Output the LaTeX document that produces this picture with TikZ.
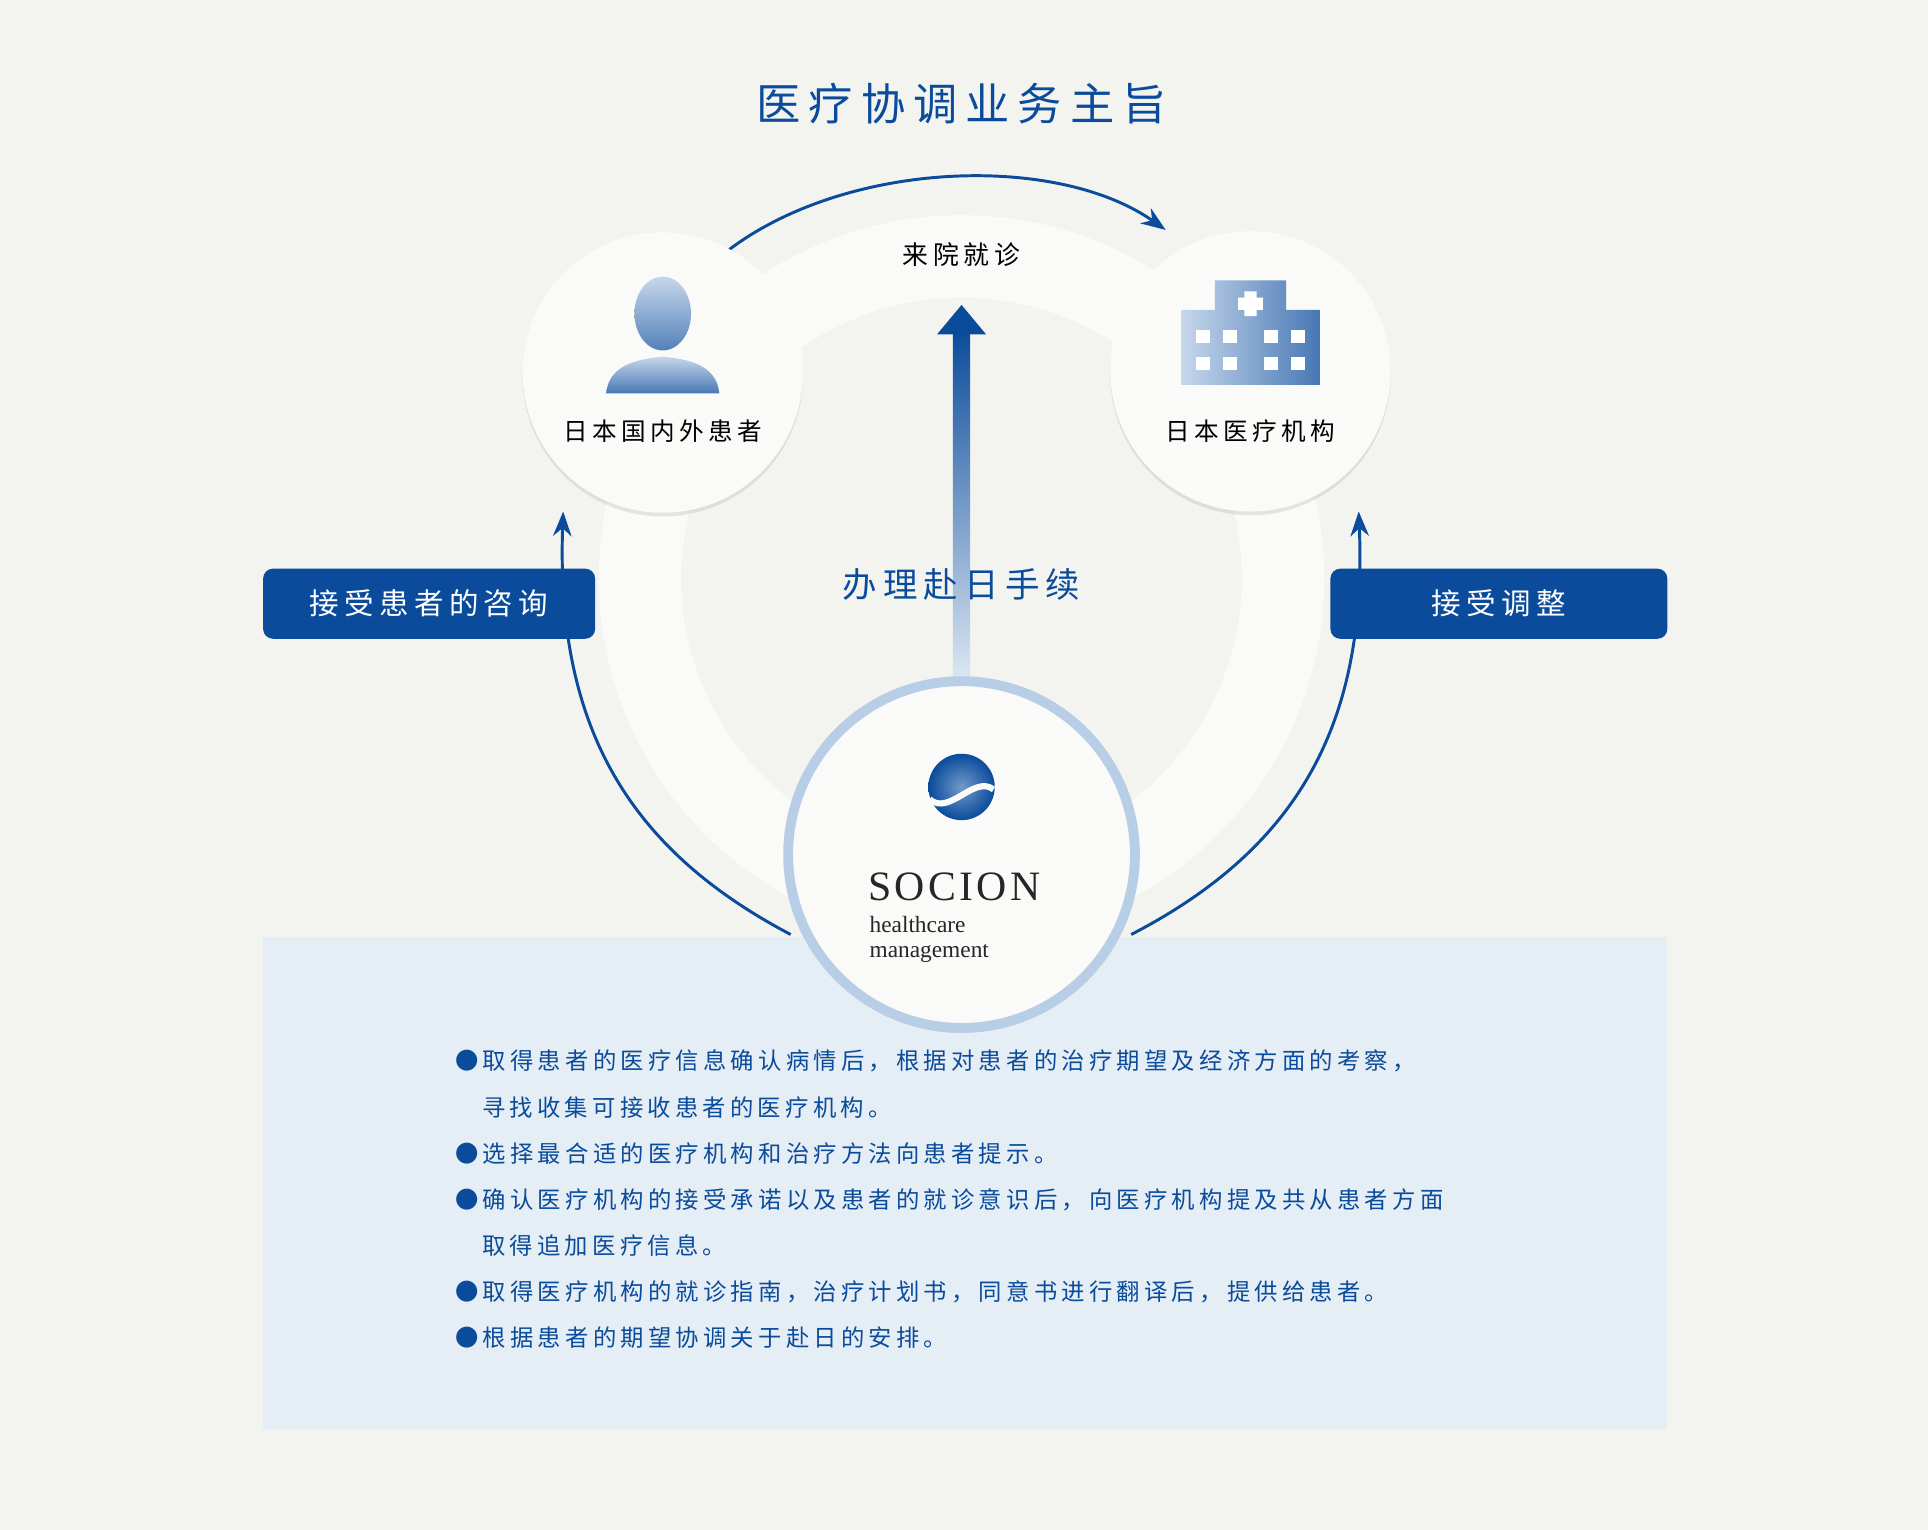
\documentclass[tikz,border=0pt]{standalone}
\usepackage{fontspec}
\newfontfamily\cjk[LetterSpace=18]{Noto Sans CJK SC}
\setmainfont{Liberation Serif}
\usetikzlibrary{shadows,arrows.meta}
\definecolor{bgcol}{HTML}{F3F4F0}
\definecolor{navy}{HTML}{0A4B9B}
\definecolor{lightblue}{HTML}{B8CDE6}
\definecolor{panel}{HTML}{E5EDF5}
\definecolor{ringcol}{HTML}{FAFAF8}
\tikzset{
  bubble/.style={circle,fill=ringcol,minimum size=228pt,drop shadow={opacity=.18,shadow xshift=0pt,shadow yshift=-3pt}},
  tagbox/.style={fill=navy,rounded corners=8pt,minimum width=270pt,minimum height=57pt,text=white,font=\cjk\fontsize{24}{24}\selectfont},
  flow/.style={navy,line width=2.4pt,-{Stealth[length=20pt,width=15pt]}},
  bullet/.style={anchor=west,text=navy,font=\cjk\fontsize{19}{19}\selectfont,inner sep=0pt}
}
\begin{document}
\begin{tikzpicture}[x=1pt,y=-1pt]
    \fill[bgcol] (0,0) rectangle (1568,1244);% background
    \useasboundingbox (0,0) rectangle (1568,1244);
    \node (Title) at (782,84) {\cjk\fontsize{36}{36}\selectfont\color{navy}医疗协调业务主旨};
    % ring
    \fill[ringcol,even odd rule] (782,470) circle (295pt) (782,470) circle (228pt);
    \fill[panel] (214,762) rectangle (1356,1163);
    % flows
    \coordinate (TopStart) at (593,203);
    \coordinate (TopEnd)   at (948,187);
    \coordinate (LeftStart) at (643,760);
    \coordinate (LeftEnd)   at (458,416);
    \coordinate (RightStart) at (920,760);
    \coordinate (RightEnd)   at (1105,416);
    \draw[flow] (TopStart) .. controls (690,130) and (860,125) .. (TopEnd);
    \draw[flow] (LeftStart) .. controls (510,690) and (452,590) .. (LeftEnd);
    \draw[flow] (RightStart) .. controls (1055,690) and (1112,590) .. (RightEnd);
    \node (Visit) at (782,207) {\cjk\fontsize{21}{21}\selectfont 来院就诊};
    % central arrow
    \shade[top color=navy,bottom color=panel!80!lightblue] (775,268) rectangle (789,552);
    \fill[navy] (762,272) -- (802,272) -- (782,248) -- cycle;
    \node (Procedure) at (782,475) {\cjk\fontsize{28}{28}\selectfont\color{navy}办理赴日手续};
    % patient
    \node[bubble] (Patient) at (539,303) {};
    \shade[top color=lightblue!80!white,bottom color=navy!70] (539,255) ellipse (23pt and 30pt);
    \shade[top color=lightblue!80!white,bottom color=navy!75] (493,320) .. controls (495,296) and (520,292) .. (539,290) .. controls (558,292) and (583,296) .. (585,320) -- cycle;
    \node (PatientLabel) at (539,351) {\cjk\fontsize{20}{20}\selectfont 日本国内外患者};
    % hospital
    \node[bubble] (Hospital) at (1017,302) {};
    \shade[left color=lightblue!80!white,right color=navy!75] (961,252) rectangle (1073,313) (988,228) rectangle (1046,252);
    \fill[white] (1012,237) rectangle (1022,257) (1007,242) rectangle (1027,252);
    \foreach \wx in {973,995,1028,1050}
      \foreach \wy in {268,290}
        \fill[white] (\wx,\wy) rectangle ++(11,11);
    \node (HospitalLabel) at (1017,351) {\cjk\fontsize{20}{20}\selectfont 日本医疗机构};
    % tags
    \node[tagbox] (Consult) at (349,491) {接受患者的咨询};
    \node[tagbox,minimum width=274pt] (Adjust) at (1219,491) {接受调整};
    % socion
    \node[circle,fill=ringcol,draw=lightblue,line width=8pt,minimum size=282pt,drop shadow={opacity=.2,shadow xshift=0pt,shadow yshift=-4pt}] (Socion) at (782,695) {};
    \shade[inner color=lightblue!60!navy,outer color=navy,shading=radial] (782,640) circle (27pt);
    \draw[ringcol,line width=5pt] (756,650) .. controls (772,664) and (792,630) .. (808,642);
    \node[anchor=west,inner sep=0pt] (Brand) at (706,721) {\fontsize{34}{34}\selectfont\addfontfeature{LetterSpace=8}\color{black!85}SOCION};
    \node[anchor=north west,inner sep=0pt,align=left,font=\fontsize{19}{20}\selectfont,text=black!85] (Sub) at (707,745) {healthcare\\management};
    % notes
    \foreach \txt [count=\i] in {%
      ●取得患者的医疗信息确认病情后，根据对患者的治疗期望及经济方面的考察，,
      \hspace{22pt}寻找收集可接收患者的医疗机构。,
      ●选择最合适的医疗机构和治疗方法向患者提示。,
      ●确认医疗机构的接受承诺以及患者的就诊意识后，向医疗机构提及共从患者方面,
      \hspace{22pt}取得追加医疗信息。,
      ●取得医疗机构的就诊指南，治疗计划书，同意书进行翻译后，提供给患者。,
      ●根据患者的期望协调关于赴日的安排。}
      \node[bullet] (Note\i) at (370,{863+37.5*(\i-1)}) {\txt};
\end{tikzpicture}
\end{document}
